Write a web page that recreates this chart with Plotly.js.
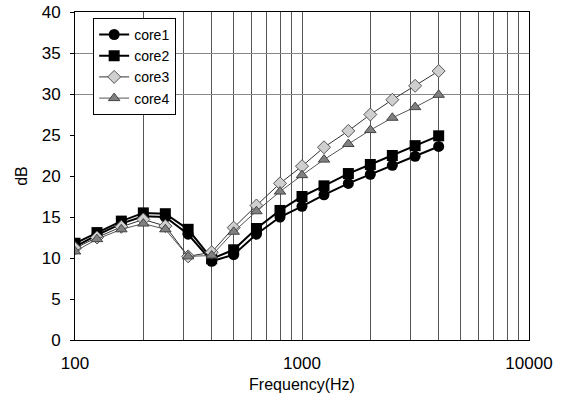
<!DOCTYPE html>
<html>
<head>
<meta charset="utf-8">
<script src="https://cdn.plot.ly/plotly-3.0.1.min.js"></script>
<style>html,body{margin:0;padding:0;background:#fff;}#chart{width:566px;height:400px;}</style>
</head>
<body>
<div id="chart"></div>
<script>
const freq = [100,125,160,200,250,315,400,500,630,800,1000,1250,1600,2000,2500,3150,4000];
const core1 = [11.4,12.8,14.2,15.1,15.0,12.9,9.6,10.4,12.9,15.0,16.3,17.7,19.1,20.2,21.3,22.4,23.6];
const core2 = [11.8,13.1,14.5,15.5,15.4,13.5,9.9,11.0,13.6,15.8,17.5,18.8,20.3,21.4,22.5,23.7,24.9];
const core3 = [11.2,12.5,13.8,14.7,13.9,10.2,10.7,13.7,16.4,19.1,21.2,23.5,25.5,27.5,29.3,31.0,32.8];
const core4 = [10.8,12.3,13.5,14.2,13.5,10.2,10.3,13.2,15.7,18.1,20.1,22.0,23.9,25.6,27.1,28.4,29.9];
const seriesNames = ['core1','core2','core3','core4'];
const xGrid = [100,200,300,400,500,600,700,800,900,1000,2000,3000,4000,5000,6000,7000,8000,9000,10000];
const xLabels = ['100','','','','','','','','','1000','','','','','','','','','10000'];
const yTicks = [0,5,10,15,20,25,30,35,40];
const yGrid = [30,35];

const traces = [
  {x:freq,y:core1,name:seriesNames[0],mode:'lines+markers',
   line:{color:'#000',width:2},marker:{symbol:'circle',size:11,color:'#000'}},
  {x:freq,y:core2,name:seriesNames[1],mode:'lines+markers',
   line:{color:'#000',width:2},marker:{symbol:'square',size:11,color:'#000'}},
  {x:freq,y:core3,name:seriesNames[2],mode:'lines+markers',
   line:{color:'#333',width:1},marker:{symbol:'diamond',size:10,color:'#cfcfcf',line:{color:'#555',width:1}}},
  {x:freq,y:core4,name:seriesNames[3],mode:'lines+markers',
   line:{color:'#555',width:1},marker:{symbol:'triangle-up',size:10,color:'#808080',line:{color:'#444',width:1}}}
];

const font = {family:'Liberation Sans, Arial, sans-serif', color:'#000'};
const layout = {
  width:566, height:400,
  margin:{l:75,r:37,t:12,b:60},
  paper_bgcolor:'#fff', plot_bgcolor:'#fff',
  font:Object.assign({size:15},font),
  showlegend:true,
  legend:{x:0.04,y:0.982,xanchor:'left',yanchor:'top',bgcolor:'#fff',bordercolor:'#000',borderwidth:1,
    font:Object.assign({size:14},font), tracegroupgap:0, itemwidth:30},
  xaxis:{type:'log', range:[2,4], tickvals:xGrid, ticktext:xLabels, showgrid:true, gridcolor:'#555', gridwidth:1,
    showline:true, linecolor:'#000', linewidth:1, mirror:true, ticks:'', zeroline:false,
    tickfont:Object.assign({size:17},font), ticklabelstandoff:8,
    title:{text:'Frequency(Hz)', font:Object.assign({size:16},font), standoff:6}},
  yaxis:{range:[0,40], tickvals:yTicks, showgrid:false, showline:true, linecolor:'#000', linewidth:1, mirror:true,
    ticks:'outside', ticklen:4, tickcolor:'#000', zeroline:false,
    tickfont:Object.assign({size:17},font), ticklabelstandoff:6,
    title:{text:'dB', font:Object.assign({size:16},font), standoff:10}},
  yaxis2:{range:[0,40], overlaying:'y', tickvals:yGrid, showticklabels:false, showgrid:true, gridcolor:'#888', gridwidth:1,
    ticks:'', showline:false, zeroline:false}
};
traces.push({x:[freq[0]],y:[null],yaxis:'y2',showlegend:false,hoverinfo:'skip',mode:'markers'});
Plotly.newPlot('chart', traces, layout, {displayModeBar:false, staticPlot:true});
</script>
</body>
</html>
